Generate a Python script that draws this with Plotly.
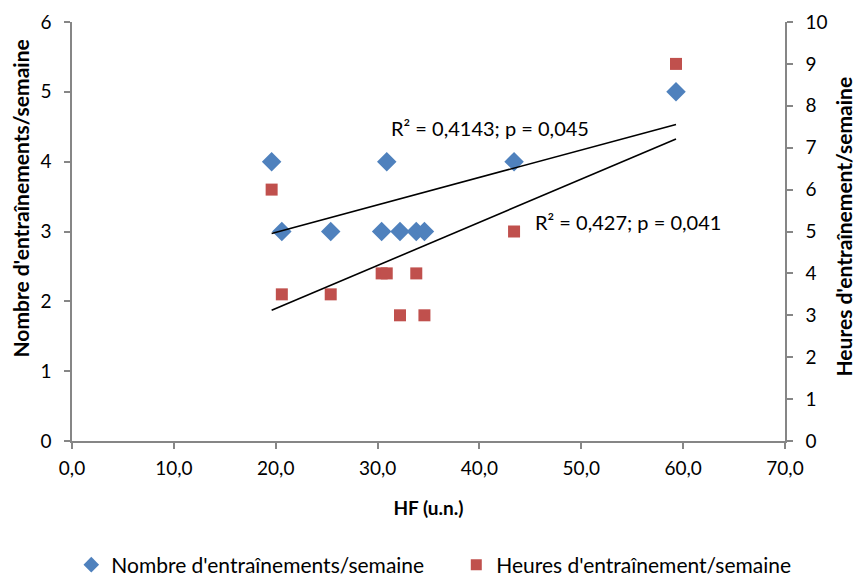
import numpy as np
import plotly.graph_objects as go

# HF (u.n.) per athlete
hf = [19.6, 20.6, 25.4, 30.4, 30.9, 32.2, 33.8, 34.6, 43.4, 59.3]
# Number of training sessions per week (left axis)
nb_sessions = [4, 3, 3, 3, 4, 3, 3, 3, 4, 5]
# Training hours per week (right axis)
hours = [6, 3.5, 3.5, 4, 4, 3, 4, 3, 5, 9]

series_names = ["Nombre d'entraînements/semaine", "Heures d'entraînement/semaine"]
stats_labels = ["R² = 0,4143; p = 0,045", "R² = 0,427; p = 0,041"]
y_titles = ["Nombre d'entraînements/semaine", "Heures d'entraînement/semaine"]

BLUE = "#4F81BD"
RED = "#C0504D"
AXIS = "#868686"
FONT = "Lato"

x_arr = np.array(hf)
x_line = np.array([x_arr.min(), x_arr.max()])
fit_n = np.polyfit(x_arr, np.array(nb_sessions, dtype=float), 1)
fit_h = np.polyfit(x_arr, np.array(hours, dtype=float), 1)

fig = go.Figure()

fig.add_trace(go.Scatter(
    x=hf, y=nb_sessions, mode="markers", name=series_names[0],
    marker=dict(symbol="diamond", size=15, color=BLUE),
    showlegend=False, yaxis="y"))
fig.add_trace(go.Scatter(
    x=hf, y=hours, mode="markers", name=series_names[1],
    marker=dict(symbol="square", size=12, color=RED),
    showlegend=False, yaxis="y2"))

# linear trendlines
fig.add_trace(go.Scatter(
    x=x_line, y=np.polyval(fit_n, x_line), mode="lines",
    line=dict(color="black", width=1.6), showlegend=False, hoverinfo="skip",
    yaxis="y"))
fig.add_trace(go.Scatter(
    x=x_line, y=np.polyval(fit_h, x_line), mode="lines",
    line=dict(color="black", width=1.6), showlegend=False, hoverinfo="skip",
    yaxis="y2"))

# legend entries with smaller symbols
fig.add_trace(go.Scatter(
    x=[None], y=[None], mode="markers", name=series_names[0],
    marker=dict(symbol="diamond", size=12, color=BLUE), yaxis="y"))
fig.add_trace(go.Scatter(
    x=[None], y=[None], mode="markers", name=series_names[1],
    marker=dict(symbol="square", size=11, color=RED), yaxis="y2"))

fig.add_annotation(x=41.0, y=4.48, xref="x", yref="y", text=stats_labels[0],
                   showarrow=False, font=dict(size=20, color="black", family=FONT))
fig.add_annotation(x=54.6, y=3.14, xref="x", yref="y", text=stats_labels[1],
                   showarrow=False, font=dict(size=20, color="black", family=FONT))

# vertical axis titles
ytitle_font = dict(size=21, color="black", family=FONT)
fig.add_annotation(x=-0.072, y=0.578, xref="paper", yref="paper",
                   xanchor="center", yanchor="middle",
                   text="<b>" + y_titles[0] + "</b>", textangle=-90,
                   showarrow=False, font=ytitle_font)
fig.add_annotation(x=1.082, y=0.513, xref="paper", yref="paper",
                   xanchor="center", yanchor="middle",
                   text="<b>" + y_titles[1] + "</b>", textangle=-90,
                   showarrow=False, font=ytitle_font)

tick_font = dict(size=19, color="black", family=FONT)
xtitle_font = dict(size=19, color="black", family=FONT)

fig.update_layout(
    width=860, height=577,
    margin=dict(l=72, r=75, t=22, b=136, autoexpand=False),
    plot_bgcolor="white", paper_bgcolor="white",
    separators=", ",
    font=dict(family=FONT, color="black"),
    xaxis=dict(
        range=[0, 70], dtick=10, tickformat=".1f",
        showgrid=False, zeroline=False, automargin=False,
        showline=True, linecolor=AXIS, linewidth=1.5,
        ticks="outside", tickcolor=AXIS, ticklen=6, tickwidth=1.5,
        tickfont=tick_font, ticklabelstandoff=3,
        title=dict(text="<b>HF (u.n.)</b>", font=xtitle_font, standoff=24),
    ),
    yaxis=dict(
        range=[0, 6], dtick=1,
        showgrid=False, zeroline=False, automargin=False,
        showline=True, linecolor=AXIS, linewidth=1.5,
        ticks="outside", tickcolor=AXIS, ticklen=6, tickwidth=1.5,
        tickfont=tick_font, ticklabelstandoff=9,
    ),
    yaxis2=dict(
        range=[0, 10], dtick=1, overlaying="y", side="right",
        showgrid=False, zeroline=False, automargin=False,
        showline=True, linecolor=AXIS, linewidth=1.5,
        ticks="outside", tickcolor=AXIS, ticklen=6, tickwidth=1.5,
        tickfont=tick_font, ticklabelstandoff=9,
    ),
    legend=dict(
        orientation="h", x=-0.001, xanchor="left",
        y=-0.296, yanchor="middle",
        font=dict(size=21, color="black", family=FONT),
        itemwidth=30, entrywidth=340,
    ),
)

fig.write_html("out.html")
